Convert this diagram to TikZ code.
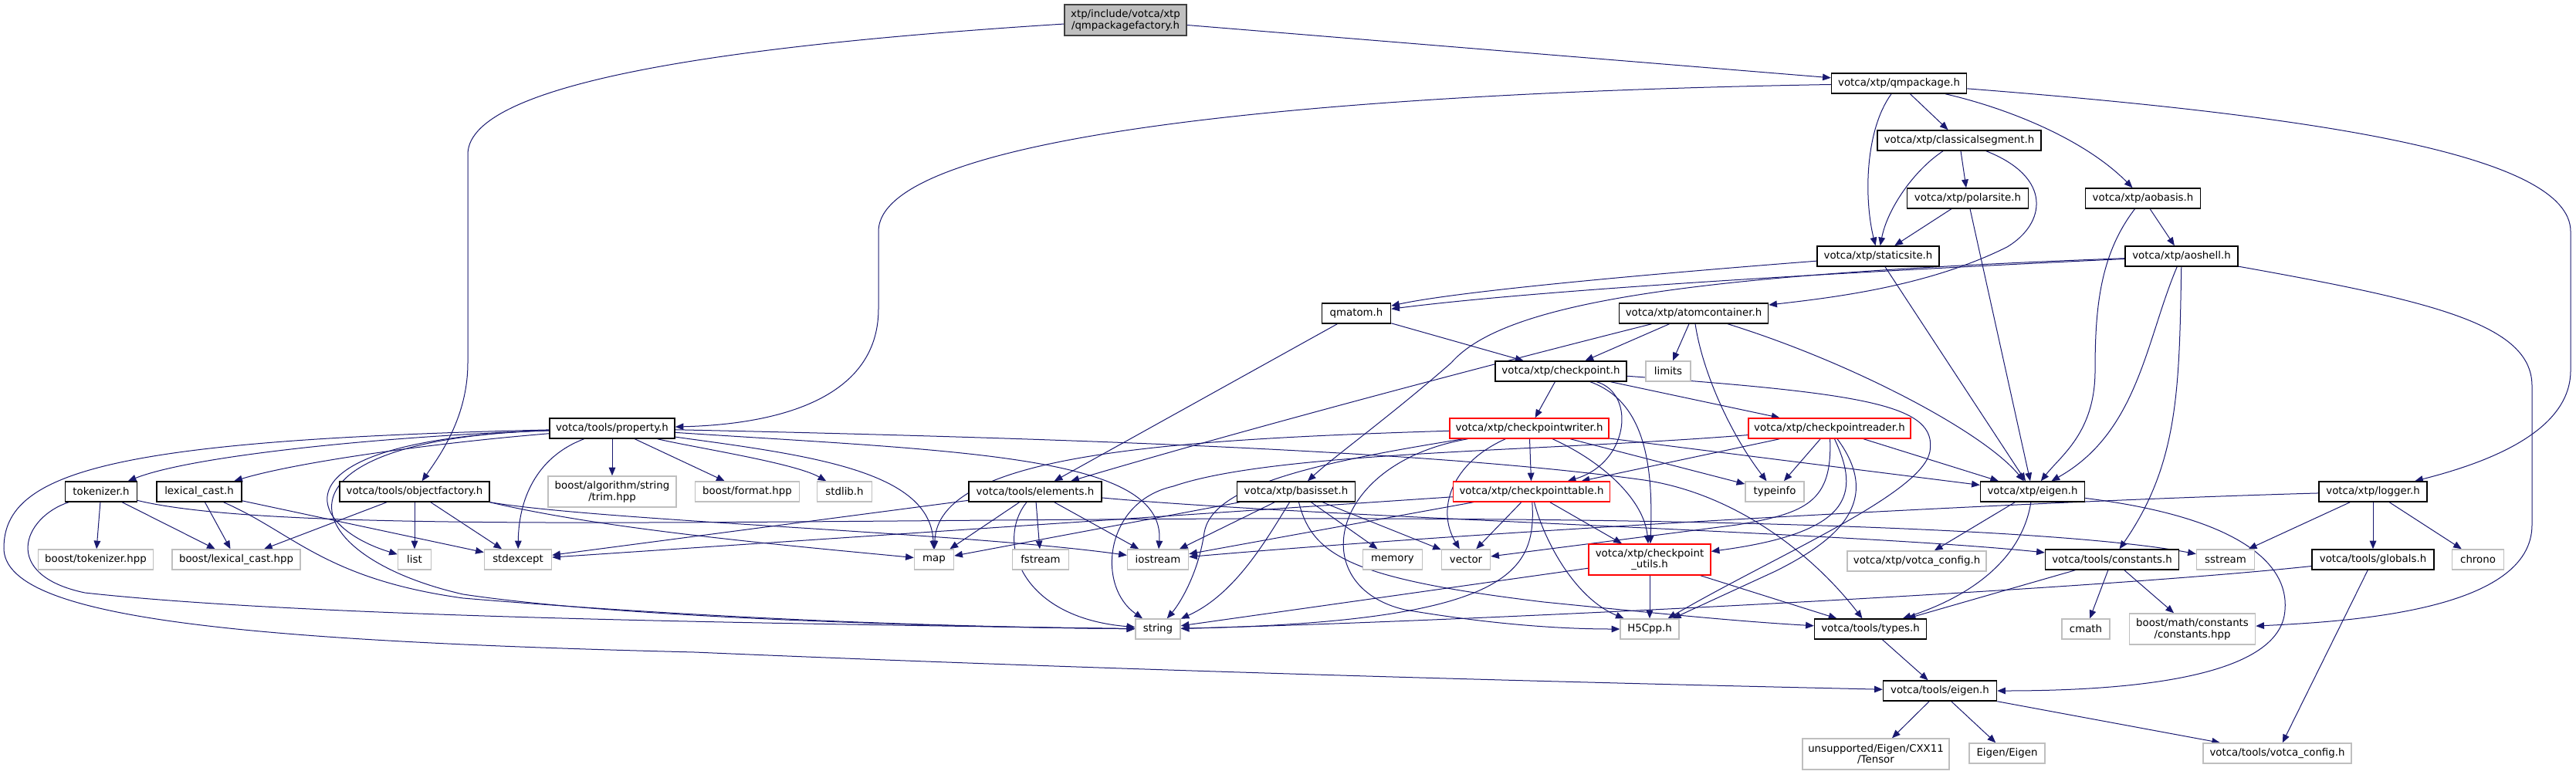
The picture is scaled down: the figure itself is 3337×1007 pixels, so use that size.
\documentclass[tikz,border=0pt]{standalone}
\usepackage{fontspec}
\setmainfont{DejaVu Sans}
\usetikzlibrary{arrows.meta, backgrounds}

\definecolor{edgeblue}{HTML}{191970}
\definecolor{extgray}{HTML}{BFBFBF}
\definecolor{rootgray}{HTML}{BFBFBF}
\definecolor{rootdraw}{HTML}{404040}

\begin{document}
\begin{tikzpicture}[x=0.75pt, y=-0.75pt,
  hdr/.style={draw=black, fill=white, rectangle, line width=1.1pt, minimum height=19.5pt, inner xsep=2pt, inner ysep=1pt, font=\fontsize{10pt}{11pt}\selectfont},
  ext/.style={hdr, draw=extgray},
  trunc/.style={hdr, draw=red},
  rootbox/.style={hdr, draw=rootdraw, fill=rootgray},
  twoline/.style={minimum height=30pt, align=center},
  boxw/.style={minimum width=#1*0.75pt},
  dep/.style={draw=edgeblue, line width=0.75pt, -{Triangle[length=8pt, width=6.5pt]}}]

  \useasboundingbox (0,0) rectangle (3337,1007);

  % top part (xtp headers)
  \node[rootbox, twoline, boxw=158] (root) at (1458,26) {xtp/include/votca/xtp\\/qmpackagefactory.h};
  \node[hdr, boxw=175] (qmpackage) at (2460,108) {votca/xtp/qmpackage.h};
  \node[hdr, boxw=212] (classeg) at (2538,182) {votca/xtp/classicalsegment.h};
  \node[hdr, boxw=157] (polarsite) at (2549,257) {votca/xtp/polarsite.h};
  \node[hdr, boxw=149] (aobasis) at (2776,257) {votca/xtp/aobasis.h};
  \node[hdr, boxw=158] (staticsite) at (2433,332) {votca/xtp/staticsite.h};
  \node[hdr, boxw=146] (aoshell) at (2826,332) {votca/xtp/aoshell.h};
  \node[hdr, boxw=89] (qmatom) at (1757,406) {qmatom.h};
  \node[hdr, boxw=193] (atomcont) at (2194,406) {votca/xtp/atomcontainer.h};
  \node[hdr, boxw=170] (checkpoint) at (2022,481) {votca/xtp/checkpoint.h};
  \node[ext, boxw=58] (limits) at (2161,481) {limits};
  \node[hdr, boxw=162] (property) at (793,555) {votca/tools/property.h};
  \node[trunc, boxw=206] (writer) at (1981,555) {votca/xtp/checkpointwriter.h};
  \node[trunc, boxw=210] (reader) at (2370,555) {votca/xtp/checkpointreader.h};

  % middle rows
  \node[hdr, boxw=93] (tokenizer) at (131,637) {tokenizer.h};
  \node[hdr, boxw=110] (lexcast) at (258,637) {lexical\_cast.h};
  \node[hdr, boxw=194] (objfactory) at (537,637) {votca/tools/objectfactory.h};
  \node[ext, twoline, boxw=166] (trim) at (793,637) {boost/algorithm/string\\/trim.hpp};
  \node[ext, boxw=135] (format) at (968,637) {boost/format.hpp};
  \node[ext, boxw=71] (stdlib) at (1094,637) {stdlib.h};
  \node[hdr, boxw=172] (elements) at (1341,637) {votca/tools/elements.h};
  \node[hdr, boxw=153] (basisset) at (1679,637) {votca/xtp/basisset.h};
  \node[trunc, boxw=203] (table) at (1984,637) {votca/xtp/checkpointtable.h};
  \node[ext, boxw=76] (typeinfo) at (2299,637) {typeinfo};
  \node[hdr, boxw=135] (xeigen) at (2633,637) {votca/xtp/eigen.h};
  \node[hdr, boxw=140] (logger) at (3074,637) {votca/xtp/logger.h};

  \node[ext, boxw=149] (boosttok) at (124,725) {boost/tokenizer.hpp};
  \node[ext, boxw=166] (boostlex) at (306,725) {boost/lexical\_cast.hpp};
  \node[ext, boxw=43] (list) at (537,725) {list};
  \node[ext, boxw=87] (stdexcept) at (671,725) {stdexcept};
  \node[ext, boxw=51] (map) at (1210,725) {map};
  \node[ext, boxw=73] (fstream) at (1348,725) {fstream};
  \node[ext, boxw=79] (iostream) at (1500,725) {iostream};
  \node[ext, boxw=77] (memory) at (1804,725) {memory};
  \node[ext, boxw=63] (vector) at (1899,725) {vector};
  \node[trunc, twoline, boxw=158] (utils) at (2137,725) {votca/xtp/checkpoint\\\_utils.h};
  \node[ext, boxw=180] (xconfig) at (2483,727) {votca/xtp/votca\_config.h};
  \node[hdr, boxw=173] (constants) at (2736,725) {votca/tools/constants.h};
  \node[ext, boxw=75] (sstream) at (2883,725) {sstream};
  \node[hdr, boxw=158] (globals) at (3074,725) {votca/tools/globals.h};
  \node[ext, boxw=67] (chrono) at (3210,725) {chrono};

  % bottom rows
  \node[ext, boxw=58] (string) at (1500,815) {string};
  \node[ext, boxw=76] (h5cpp) at (2137,815) {H5Cpp.h};
  \node[hdr, boxw=145] (types) at (2423,815) {votca/tools/types.h};
  \node[ext, boxw=62] (cmath) at (2702,815) {cmath};
  \node[ext, twoline, boxw=163] (boostmath) at (2840,815) {boost/math/constants\\/constants.hpp};
  \node[hdr, boxw=147] (teigen) at (2513,895) {votca/tools/eigen.h};
  \node[ext, twoline, boxw=190] (tensor) at (2430,977) {unsupported/Eigen/CXX11\\/Tensor};
  \node[ext, boxw=98] (eigeneigen) at (2600,976) {Eigen/Eigen};
  \node[ext, boxw=192] (tconfig) at (2950,976) {votca/tools/votca\_config.h};

  \begin{scope}[on background layer]
  % root and qmpackage
  \draw[dep] (root) -- (qmpackage);
  \draw[dep] (root) .. controls (1000,55) and (606,100) .. (606,200) -- (606,470) .. controls (606,540) and (570,590) .. (objfactory);
  \draw[dep] (qmpackage) .. controls (1750,120) and (1138,170) .. (1138,300) -- (1138,400) .. controls (1138,520) and (1000,550) .. (property);
  \draw[dep] (qmpackage) .. controls (2415,170) and (2415,260) .. (staticsite);
  \draw[dep] (qmpackage) -- (classeg);
  \draw[dep] (qmpackage) .. controls (2600,140) and (2700,180) .. (aobasis);
  \draw[dep] (qmpackage) .. controls (3000,150) and (3330,200) .. (3330,300) -- (3330,480) .. controls (3330,560) and (3220,600) .. (logger);

  % segments and sites
  \draw[dep] (classeg) -- (polarsite);
  \draw[dep] (classeg) .. controls (2480,220) and (2445,270) .. (staticsite);
  \draw[dep] (classeg) .. controls (2660,230) and (2650,290) .. (2600,320) .. controls (2500,370) and (2380,385) .. (atomcont);
  \draw[dep] (polarsite) -- (staticsite);
  \draw[dep] (polarsite) -- (xeigen);
  \draw[dep] (aobasis) -- (aoshell);
  \draw[dep] (aobasis) .. controls (2720,330) and (2714,400) .. (2714,480) .. controls (2714,560) and (2670,590) .. (xeigen);
  \draw[dep] (staticsite) .. controls (2200,350) and (1900,375) .. (qmatom);
  \draw[dep] (staticsite) -- (xeigen);
  \draw[dep] (aoshell) .. controls (2400,352) and (2000,375) .. (qmatom);
  \draw[dep] (aoshell) .. controls (2200,355) and (1950,390) .. (1880,470) .. controls (1800,540) and (1730,590) .. (basisset);
  \draw[dep] (aoshell) .. controls (2780,440) and (2770,560) .. (xeigen);
  \draw[dep] (aoshell) .. controls (2823,500) and (2823,600) .. (constants);
  \draw[dep] (aoshell) .. controls (3150,390) and (3280,420) .. (3280,500) -- (3280,680) .. controls (3280,790) and (3050,805) .. (boostmath);

  % atoms and checkpoint
  \draw[dep] (qmatom) -- (elements);
  \draw[dep] (qmatom) -- (checkpoint);
  \draw[dep] (atomcont) -- (checkpoint);
  \draw[dep] (atomcont) -- (limits);
  \draw[dep] (atomcont) .. controls (1900,480) and (1600,560) .. (elements);
  \draw[dep] (atomcont) .. controls (2205,480) and (2240,560) .. (typeinfo);
  \draw[dep] (atomcont) .. controls (2400,470) and (2570,560) .. (xeigen);
  \draw[dep] (checkpoint) -- (writer);
  \draw[dep] (checkpoint) .. controls (2120,510) and (2110,600) .. (table);
  \draw[dep] (checkpoint) .. controls (2130,520) and (2142,600) .. (utils);
  \draw[dep] (checkpoint) -- (reader);
  \draw[dep] (checkpoint) .. controls (2420,510) and (2510,525) .. (2500,585) .. controls (2490,640) and (2300,720) .. (h5cpp);

  % writer
  \draw[dep] (writer) -- (table);
  \draw[dep] (writer) .. controls (1500,570) and (1215,590) .. (map);
  \draw[dep] (writer) .. controls (1700,600) and (1570,630) .. (1560,690) .. controls (1553,740) and (1530,780) .. (string);
  \draw[dep] (writer) .. controls (1880,600) and (1860,660) .. (vector);
  \draw[dep] (writer) .. controls (1720,600) and (1690,760) .. (1820,790) .. controls (1950,812) and (2040,815) .. (h5cpp);
  \draw[dep] (writer) .. controls (2080,600) and (2130,650) .. (utils);
  \draw[dep] (writer) -- (typeinfo);
  \draw[dep] (writer) -- (xeigen);

  % reader
  \draw[dep] (reader) .. controls (2000,585) and (1650,585) .. (1520,630) .. controls (1430,650) and (1420,760) .. (string);
  \draw[dep] (reader) -- (table);
  \draw[dep] (reader) -- (typeinfo);
  \draw[dep] (reader) .. controls (2374,650) and (2340,665) .. (2250,680) -- (vector);
  \draw[dep] (reader) .. controls (2410,640) and (2400,690) .. (utils);
  \draw[dep] (reader) .. controls (2440,650) and (2380,700) .. (2300,740) -- (h5cpp);
  \draw[dep] (reader) -- (xeigen);

  % table and utils
  \draw[dep] (table) -- (stdexcept);
  \draw[dep] (table) -- (iostream);
  \draw[dep] (table) -- (vector);
  \draw[dep] (table) .. controls (2000,700) and (2040,775) .. (h5cpp);
  \draw[dep] (table) -- (utils);
  \draw[dep] (table) .. controls (1990,740) and (1960,805) .. (string);
  \draw[dep] (utils) -- (string);
  \draw[dep] (utils) -- (h5cpp);
  \draw[dep] (utils) -- (types);

  % basisset
  \draw[dep] (basisset) -- (map);
  \draw[dep] (basisset) -- (iostream);
  \draw[dep] (basisset) .. controls (1640,700) and (1600,770) .. (string);
  \draw[dep] (basisset) -- (memory);
  \draw[dep] (basisset) -- (vector);
  \draw[dep] (basisset) .. controls (1700,720) and (1750,750) .. (2000,780) .. controls (2150,795) and (2250,805) .. (types);

  % elements
  \draw[dep] (elements) -- (map);
  \draw[dep] (elements) .. controls (1290,700) and (1320,800) .. (string);
  \draw[dep] (elements) -- (fstream);
  \draw[dep] (elements) -- (iostream);
  \draw[dep] (elements) -- (stdexcept);
  \draw[dep] (elements) .. controls (1700,670) and (2400,690) .. (constants);

  % tokenizer, lexical_cast, objectfactory
  \draw[dep] (tokenizer) -- (boosttok);
  \draw[dep] (tokenizer) -- (boostlex);
  \draw[dep] (tokenizer) .. controls (30,670) and (0,745) .. (110,768) .. controls (400,800) and (1000,808) .. (string);
  \draw[dep] (tokenizer) .. controls (350,690) and (900,675) .. (1600,672) .. controls (2300,670) and (2700,690) .. (sstream);
  \draw[dep] (lexcast) -- (boostlex);
  \draw[dep] (lexcast) .. controls (380,690) and (420,750) .. (600,775) .. controls (900,800) and (1200,812) .. (string);
  \draw[dep] (lexcast) -- (stdexcept);
  \draw[dep] (objfactory) -- (boostlex);
  \draw[dep] (objfactory) -- (list);
  \draw[dep] (objfactory) -- (stdexcept);
  \draw[dep] (objfactory.south east) .. controls (780,675) and (1250,690) .. (iostream);
  \draw[dep] (objfactory.south east) .. controls (780,685) and (1000,705) .. (map);

  % property
  \draw[dep] (property) .. controls (500,565) and (250,590) .. (tokenizer);
  \draw[dep] (property) .. controls (550,575) and (380,600) .. (lexcast);
  \draw[dep] (property) .. controls (350,570) and (390,680) .. (list);
  \draw[dep] (property) .. controls (330,570) and (380,720) .. (600,770) .. controls (800,800) and (1200,812) .. (string);
  \draw[dep] (property) .. controls (150,570) and (5,610) .. (5,710) .. controls (5,800) and (300,830) .. (900,845) .. controls (1600,875) and (2300,890) .. (teigen);
  \draw[dep] (property) .. controls (700,590) and (672,640) .. (stdexcept);
  \draw[dep] (property) -- (trim);
  \draw[dep] (property) -- (format);
  \draw[dep] (property) .. controls (900,580) and (1030,600) .. (stdlib);
  \draw[dep] (property) .. controls (1050,590) and (1205,610) .. (map);
  \draw[dep] (property) .. controls (1250,585) and (1510,590) .. (iostream);
  \draw[dep] (property) .. controls (1500,570) and (1900,590) .. (2130,622) .. controls (2250,640) and (2350,720) .. (types);

  % eigen, constants, logger and the rest
  \draw[dep] (xeigen) -- (xconfig);
  \draw[dep] (xeigen) .. controls (2620,720) and (2560,770) .. (types);
  \draw[dep] (xeigen) .. controls (2900,670) and (2965,730) .. (2960,790) .. controls (2955,880) and (2750,895) .. (teigen);
  \draw[dep] (constants) -- (types);
  \draw[dep] (constants) -- (cmath);
  \draw[dep] (constants) -- (boostmath);
  \draw[dep] (logger) -- (sstream);
  \draw[dep] (logger) -- (globals);
  \draw[dep] (logger) -- (chrono);
  \draw[dep] (logger) .. controls (2600,650) and (1900,690) .. (iostream);
  \draw[dep] (globals) .. controls (2700,765) and (1900,805) .. (string);
  \draw[dep] (globals) -- (tconfig);
  \draw[dep] (types) -- (teigen);
  \draw[dep] (teigen) -- (tensor);
  \draw[dep] (teigen) -- (eigeneigen);
  \draw[dep] (teigen) -- (tconfig);
  \end{scope}
\end{tikzpicture}
\end{document}
